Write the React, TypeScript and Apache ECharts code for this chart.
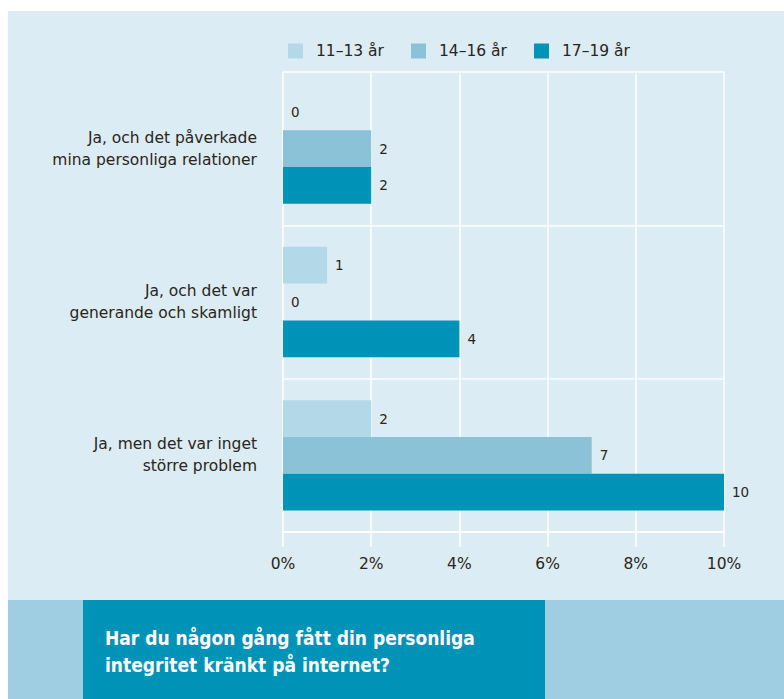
import React, { useEffect, useRef } from "react";
import * as echarts from "echarts";

const categories = [
  "Ja, och det påverkade\nmina personliga relationer",
  "Ja, och det var\ngenerande och skamligt",
  "Ja, men det var inget\nstörre problem",
];
const seriesNames = ["11–13 år", "14–16 år", "17–19 år"];
const values1113 = [0, 1, 2];
const values1416 = [2, 0, 7];
const values1719 = [2, 4, 10];
const seriesColors = ["#b3d8e7", "#8bc2d8", "#0093b8"];
const titleText = "Har du någon gång fått din personliga\nintegritet kränkt på internet?";

const FONT = "'DejaVu Sans', sans-serif";
const TEXT = "#2a2520";

export default function App() {
  const ref = useRef<HTMLDivElement>(null);
  useEffect(() => {
    if (!ref.current) return;
    const chart = echarts.init(ref.current, undefined, { renderer: "svg" });
    const data = [values1113, values1416, values1719];
    chart.setOption({
      animation: false,
      graphic: [
        { type: "rect", z: -100, shape: { x: 8, y: 11, width: 776, height: 589 }, style: { fill: "#dbecf5" } },
        { type: "rect", z: -100, shape: { x: 8, y: 600, width: 776, height: 99 }, style: { fill: "#9fcde1" } },
        { type: "rect", z: -99, shape: { x: 83, y: 600, width: 462, height: 99 }, style: { fill: "#0093b8" } },
        {
          type: "text",
          z: 10,
          x: 105,
          y: 651,
          style: {
            text: titleText,
            fill: "#ffffff",
            font: "bold 19px 'DejaVu Sans Condensed', 'DejaVu Sans', sans-serif",
            lineHeight: 27,
            verticalAlign: "middle",
            align: "left",
          },
        },
      ],
      legend: {
        left: 283,
        top: 38,
        itemWidth: 15,
        itemHeight: 15,
        itemGap: 27,
        icon: "rect",
        data: seriesNames,
        textStyle: { fontSize: 15.5, fontFamily: FONT, color: TEXT, padding: [0, 0, 0, 8] },
      },
      grid: { left: 283, right: 60, top: 72, bottom: 167, containLabel: false },
      xAxis: {
        type: "value",
        min: 0,
        max: 10,
        interval: 2,
        axisLine: { show: true, onZero: false, lineStyle: { color: "#ffffff", width: 1.5 } },
        axisTick: { show: true, length: 15, lineStyle: { color: "#ffffff", width: 1.5 } },
        splitLine: { show: true, lineStyle: { color: "#ffffff", width: 1.5 } },
        axisLabel: { formatter: "{value}%", margin: 24, fontSize: 15.5, fontFamily: FONT, color: TEXT },
      },
      yAxis: {
        type: "category",
        inverse: true,
        data: categories,
        axisLine: { show: false },
        axisTick: { show: false },
        splitLine: { show: true, lineStyle: { color: "#ffffff", width: 1.5 } },
        axisLabel: {
          margin: 26,
          fontSize: 15.5,
          lineHeight: 22,
          fontFamily: FONT,
          color: TEXT,
          padding: [0, 0, 6, 0],
        },
      },
      series: seriesNames.map((name, i) => ({
        name,
        type: "bar",
        data: data[i],
        barGap: 0,
        barCategoryGap: "28%",
        itemStyle: { color: seriesColors[i] },
        label: {
          show: true,
          position: "right",
          distance: 8,
          fontSize: 13.5,
          fontFamily: FONT,
          color: TEXT,
        },
      })),
    });
    return () => chart.dispose();
  }, []);
  return (
    <div
      ref={ref}
      style={{ position: "absolute", left: 0, top: 0, width: 784, height: 699, background: "#ffffff" }}
    />
  );
}
